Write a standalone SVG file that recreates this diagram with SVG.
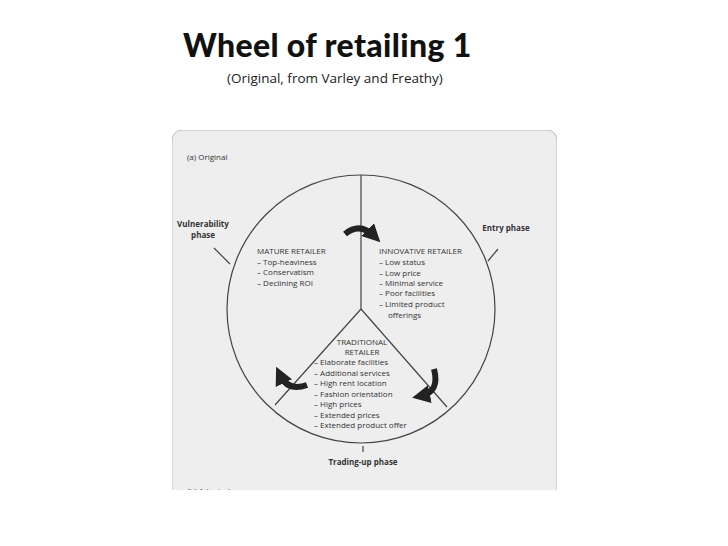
<svg xmlns="http://www.w3.org/2000/svg" width="728" height="546" viewBox="0 0 728 546">
<style>
.t{font-family:"Open Sans","Liberation Sans",sans-serif;font-size:8px;fill:#333}
.b{font-weight:bold}
.ln{stroke:#444;stroke-width:1.2;fill:none}
.arr{stroke:#222;stroke-width:6;fill:none;marker-end:url(#ah)}
</style>
<defs>
<marker id="ah" markerWidth="3" markerHeight="3" refX="1.5" refY="1.5" orient="auto"><path d="M0,0 L3,1.5 L0,3Z" fill="#222"/></marker>
<clipPath id="cp"><rect x="172" y="130" width="385" height="360"/></clipPath>
</defs>
<rect width="728" height="546" fill="#fff"/>
<text x="183" y="57" font-family="Lato,'Liberation Sans',sans-serif" font-weight="900" font-size="32" letter-spacing="-1.3" fill="#111" textLength="287">Wheel of retailing 1</text>
<text x="227" y="83" font-family="'Open Sans','Liberation Sans',sans-serif" font-size="13.5" fill="#222">(Original, from Varley and Freathy)</text>
<g clip-path="url(#cp)">
<rect x="172" y="130" width="385" height="370" rx="10" fill="#eeeeee" stroke="#bbb"/>
<text class="t" x="187" y="160">(a)  Original</text>
<text class="t" x="187" y="494">(b)  Adapted</text>
</g>
<g id="wheel">
<circle cx="361" cy="309" r="134" class="ln"/>
</g>
<g id="connectors">
<line class="ln" x1="361" y1="175" x2="361" y2="309"/>
<line class="ln" x1="361" y1="309" x2="275" y2="405"/>
<line class="ln" x1="361" y1="309" x2="447" y2="407"/>
<line class="ln" x1="214" y1="248" x2="230" y2="264"/>
<line class="ln" x1="498" y1="249" x2="488" y2="261"/>
<line class="ln" x1="363" y1="446" x2="363" y2="452"/>
<path class="arr" d="M345,234 Q360,222 374,236"/>
<path class="arr" d="M307,385 Q288,392 280,375"/>
<path class="arr" d="M434,369 Q440,392 421,396"/>
</g>
<g id="vulnerability"><text class="t b" x="203" y="227" text-anchor="middle">Vulnerability</text><text class="t b" x="203" y="238" text-anchor="middle">phase</text></g>
<g id="entry"><text class="t b" x="506" y="231" text-anchor="middle">Entry phase</text></g>
<g id="mature"><text class="t" x="257" y="254">MATURE RETAILER</text>
<text class="t" x="257" y="265">–  Top-heaviness</text><text class="t" x="257" y="275">–  Conservatism</text><text class="t" x="257" y="286">–  Declining ROI</text></g>
<g id="innovative"><text class="t" x="379" y="254">INNOVATIVE RETAILER</text>
<text class="t" x="379" y="265">–  Low status</text><text class="t" x="379" y="276">–  Low price</text><text class="t" x="379" y="286">–  Minimal service</text><text class="t" x="379" y="296">–  Poor facilities</text><text class="t" x="379" y="307">–  Limited product</text><text class="t" x="388" y="318">offerings</text></g>
<g id="traditional"><text class="t" x="362" y="345" text-anchor="middle">TRADITIONAL</text><text class="t" x="362" y="355" text-anchor="middle">RETAILER</text>
<text class="t" x="314" y="365">–  Elaborate facilities</text><text class="t" x="314" y="376">–  Additional services</text><text class="t" x="314" y="386">–  High rent location</text><text class="t" x="314" y="397">–  Fashion orientation</text><text class="t" x="314" y="407">–  High prices</text><text class="t" x="314" y="418">–  Extended prices</text><text class="t" x="314" y="428">–  Extended product offer</text></g>
<g id="tradingup"><text class="t b" x="363" y="465" text-anchor="middle">Trading-up phase</text></g>
</svg>
